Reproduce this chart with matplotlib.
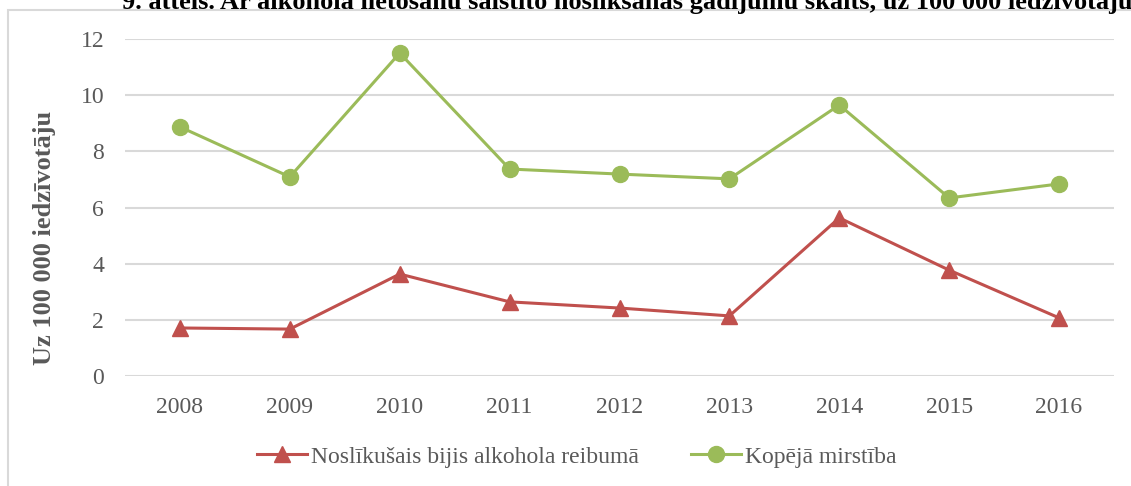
import matplotlib
matplotlib.use('Agg')
import matplotlib.pyplot as plt
from matplotlib.patches import Rectangle

# Data
years = ['2008', '2009', '2010', '2011', '2012', '2013', '2014', '2015', '2016']
alcohol = [1.71, 1.67, 3.63, 2.64, 2.42, 2.14, 5.63, 3.77, 2.07]
total = [8.87, 7.09, 11.50, 7.37, 7.19, 7.02, 9.65, 6.34, 6.84]

title = '9. attēls. Ar alkohola lietošanu saistīto noslīkšanas gadījumu skaits, uz 100 000 iedzīvotāju'
ylabel = 'Uz 100 000 iedzīvotāju'
labels = ['Noslīkušais bijis alkohola reibumā', 'Kopējā mirstība']

red = '#C0504D'
green = '#9BBB59'
grey = '#595959'
gridc = '#D9D9D9'

plt.rcParams['font.family'] = ['Liberation Serif', 'DejaVu Serif']

fig = plt.figure(figsize=(11.31, 4.86), dpi=100)
ax = fig.add_axes([125/1131, 110/486, (1114-125)/1131, (376-39)/486])

x = list(range(len(years)))
ax.plot(x, alcohol, color=red, lw=2.2, marker='^', ms=11.5, label=labels[0])
ax.plot(x, total, color=green, lw=2.2, marker='o', ms=11.5, label=labels[1])

ax.set_xlim(-0.5, len(years) - 0.5)
ax.set_ylim(0, 12)
ax.set_yticks(range(0, 13, 2))
ax.set_xticks(x)
ax.set_xticklabels(years)
ax.yaxis.grid(True, color=gridc, lw=1.5)
ax.set_axisbelow(True)
for s in ax.spines.values():
    s.set_visible(False)
ax.tick_params(length=0, labelsize=17, labelcolor=grey)
ax.tick_params(axis='y', pad=15)
ax.tick_params(axis='x', pad=15)
ax.set_ylabel(ylabel, fontsize=19, fontweight='bold', color=grey)
ax.yaxis.set_label_coords(-0.070, 0.41)

leg = ax.legend(loc='center', bbox_to_anchor=(577/1131, 1 - 457/486),
                bbox_transform=fig.transFigure, ncol=2, frameon=False,
                fontsize=17, handlelength=2.1, columnspacing=2.2, handletextpad=0.2)
for t in leg.get_texts():
    t.set_color(grey)

# chart frame (cut off at right and bottom)
fig.patches.append(Rectangle((8/1131, -0.1), 1.2, 1 - 10/486 + 0.1,
                             transform=fig.transFigure, fill=False,
                             edgecolor=gridc, lw=1.5))

# title, partly cut off at the top as in the source
fig.text(627/1131, 1 - 9/486, title, ha='center', va='baseline',
         fontsize=19, fontweight='bold', color='black')

fig.savefig('out.png', dpi=100)
